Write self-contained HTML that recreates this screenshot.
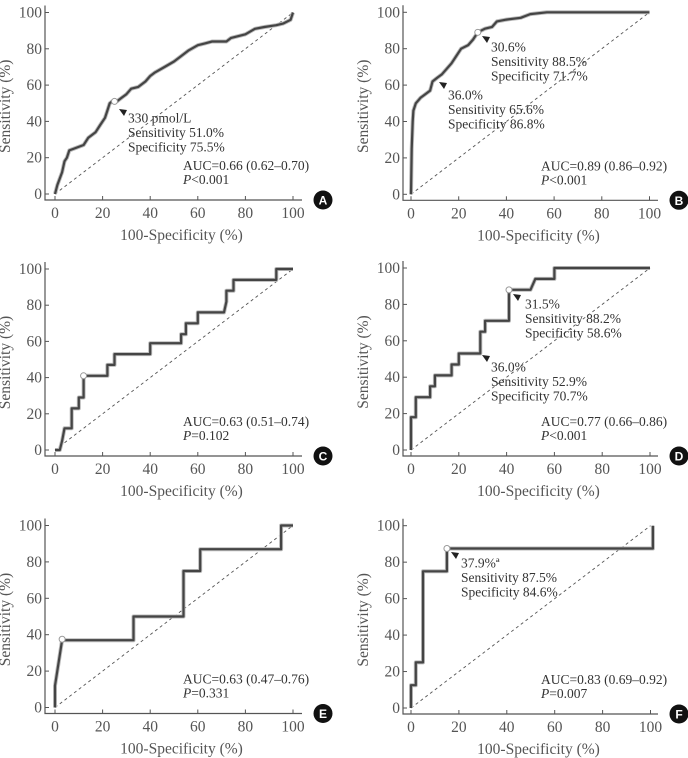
<!DOCTYPE html>
<html><head><meta charset="utf-8"><style>
html,body{margin:0;padding:0;background:#fff;width:688px;height:758px;overflow:hidden}
svg{font-family:"Liberation Serif","Times New Roman",serif}
</style></head><body>
<svg id="c" width="688" height="758"></svg>
<script>
const ticks=[0,20,40,60,80,100];
const tickLabels=["0","20","40","60","80","100"];
const aFpr=[0,1,3,4,5,6,8,12,14,17,19,21,22,23,24,26,28,30,32,35,38,40,42,46,50,53,56,60,63,66,72,74,80,84,88,93,96,99,100];
const aTpr=[0,5,12,18,20,24,25,27,31,34,38,42,46,50,51,51,53,55,58,59,62,65,67,70,73,76,79,82,83,84,84,86,88,91,92,93,94,96,100];
const bFpr=[0,0.3,0.7,1,2,4,6,8,9,11,13,15,17,19,21,24,26,28,31,34,36,40,46,50,57,100];
const bTpr=[0,25,40,46,50,53,55,57,62,64,66,69,72,76,80,82,85,89,91,92,95,96,97,99,100,100];
const cFpr=[0,2,3,4,7,7,10,10,12,12,22,22,25,25,40,40,53,53,55,55,60,60,71,72,72,75,75,93,93,100];
const cTpr=[0,0,5,12,12,23,23,29,29,41,41,47,47,53,53,59,59,64,64,70,70,76,76,82,88,88,94,94,100,100];
const dFpr=[0,0,2,2,8,8,10,10,17,17,20,20,29,29,31,31,41,41,50,52,60,60,100];
const dTpr=[0,18,18,29,29,35,35,41,41,47,47,53,53,65,65,71,71,88,88,94,94,100,100];
const eFpr=[0,0,3,33,33,54,54,61,61,95,95,100];
const eTpr=[0,12,37,37,50,50,75,75,87,87,100,100];
const fFpr=[0,0,2,2,5,5,15,15,101,101];
const fTpr=[0,12.5,12.5,25,25,75,75,87.5,87.5,100];
const cutX=[25,28,12,41,3,15];
const cutY=[51,89,41,88,37.5,87.5];

const NS="http://www.w3.org/2000/svg";
const svg=document.getElementById('c');
const SERIF='font-family:"Liberation Serif","Times New Roman",serif';
function mk(tag,attrs,parent,text){const e=document.createElementNS(NS,tag);if(tag==='text')e.setAttribute('style',SERIF);for(const k in attrs)e.setAttribute(k,attrs[k]);if(text!==undefined)e.textContent=text;(parent||svg).appendChild(e);return e;}

const panels=[
 {id:'a',L:'A',x0:55,xw:238,y0:194,yh:181.5,ax:45,ar:302,fpr:aFpr,tpr:aTpr,
  notes:[{x:128,y:118,t:["330 pmol/L","Sensitivity 51.0%","Specificity 75.5%"],ax:123,ay:112}],
  auc:["AUC=0.66 (0.62–0.70)","P<0.001"]},
 {id:'b',L:'B',x0:411,xw:238.5,y0:194.3,yh:182,ax:403,ar:658,fpr:bFpr,tpr:bTpr,
  notes:[{x:491,y:47,t:["30.6%","Sensitivity 88.5%","Specificity 71.7%"],ax:486,ay:39},
         {x:448,y:95,t:["36.0%","Sensitivity 65.6%","Specificity 86.8%"],ax:443,ay:85}],
  auc:["AUC=0.89 (0.86–0.92)","P<0.001"]},
 {id:'c',L:'C',x0:55,xw:238,y0:450,yh:181,ax:45,ar:302,fpr:cFpr,tpr:cTpr,notes:[],
  auc:["AUC=0.63 (0.51–0.74)","P=0.102"]},
 {id:'d',L:'D',x0:411,xw:239,y0:450,yh:182,ax:403,ar:658,fpr:dFpr,tpr:dTpr,
  notes:[{x:525,y:304,t:["31.5%","Sensitivity 88.2%","Specificity 58.6%"],ax:517,ay:297},
         {x:491,y:367,t:["36.0%","Sensitivity 52.9%","Specificity 70.7%"],ax:486,ay:358}],
  auc:["AUC=0.77 (0.66–0.86)","P<0.001"]},
 {id:'e',L:'E',x0:55,xw:238,y0:707.5,yh:182,ax:45,ar:302,fpr:eFpr,tpr:eTpr,notes:[],
  auc:["AUC=0.63 (0.47–0.76)","P=0.331"]},
 {id:'f',L:'F',x0:411,xw:239.5,y0:708,yh:182.3,ax:403,ar:658,fpr:fFpr,tpr:fTpr,
  notes:[{x:461,y:563,t:["37.9%ª","Sensitivity 87.5%","Specificity 84.6%"],ax:455,ay:555}],
  auc:["AUC=0.83 (0.69–0.92)","P=0.007"]}
];

panels.forEach((p,i)=>{
 const X=v=>p.x0+v/100*p.xw, Y=v=>p.y0-v/100*p.yh;
 const g=mk('g',{});
 
 
 const by=p.y0+6;
 const axes=mk('path',{d:`M${p.ax} ${Y(100)-7}V${by}H${p.ar}`,fill:'none',stroke:'#555','stroke-width':1.2},g);
 
 
 ticks.forEach((t,k)=>{
  mk('line',{x1:X(t),x2:X(t),y1:by,y2:by-4,stroke:'#555','stroke-width':1},g);
  mk('line',{x1:p.ax,x2:p.ax+4,y1:Y(t),y2:Y(t),stroke:'#555','stroke-width':1},g);
  const xl=mk('text',{x:X(t),y:p.y0+24,'text-anchor':'middle','font-size':15.5,fill:'#555'},g,tickLabels[k]);
  
  
  const yl=mk('text',{x:p.ax-3,y:Y(t)+5,'text-anchor':'end','font-size':15.5,fill:'#555'},g,tickLabels[k]);
  
  
 });
 const xt=mk('text',{x:(p.ax+p.ar)/2+8,y:p.y0+46,'text-anchor':'middle','font-size':15.5,fill:'#555'},g,'100-Specificity (%)');
 
 
 const yx=p.ax-35, yc=(Y(100)+by)/2;
 const yt=mk('text',{x:yx,y:yc,'text-anchor':'middle','font-size':15.5,fill:'#555',transform:`rotate(-90 ${yx} ${yc})`},g,'Sensitivity (%)');
 
 
 const dg=mk('line',{x1:X(0),y1:Y(0),x2:X(100),y2:Y(100),stroke:'#555','stroke-width':0.9,'stroke-dasharray':'3,3'},g);
 
 
 const d=p.fpr.map((v,k)=>(k?'L':'M')+X(v).toFixed(1)+' '+Y(p.tpr[k]).toFixed(1)).join('');
 mk('path',{d,fill:'none',stroke:'#bbb','stroke-width':4,'stroke-linejoin':'round'},g);
 const cv=mk('path',{d,fill:'none',stroke:'#444','stroke-width':2.2,'stroke-linejoin':'round'},g);
 
 
 const mkr=mk('circle',{cx:X(cutX[i]),cy:Y(cutY[i]),r:3,fill:'#fff',stroke:'#999','stroke-width':1},g);
 
 
 p.notes.forEach(n=>{
  const ar=mk('path',{d:`M${n.ax-4} ${n.ay-3}L${n.ax+4} ${n.ay-2}L${n.ax+1} ${n.ay+4}Z`,fill:'#222'},g);
  
  
  n.t.forEach((s,k)=>{
   const t=mk('text',{x:n.x,y:n.y+k*14.5+4.5,'font-size':13.5,fill:'#333'},g,s);
   
   
  });
 });
 const ax=p.ax+138;
 const a1=mk('text',{x:ax,y:p.y0-24,'font-size':13.5,fill:'#333'},g,p.auc[0]);
 
 
 const pt=mk('text',{x:ax,y:p.y0-10,'font-size':13.5,fill:'#333'},g);
 
 
 mk('tspan',{'font-style':'italic'},pt,'P');
 mk('tspan',{},pt,p.auc[1].slice(1));
 const bx=p.ar+21;
 const bc=mk('circle',{cx:bx,cy:by,r:9.5,fill:'#111'},g);
 
 
 const bt=mk('text',{x:bx,y:by+4.5,'text-anchor':'middle','font-size':12,'font-weight':'bold',fill:'#fff'},g,p.L);
 bt.setAttribute('style','font-family:"Liberation Sans",sans-serif');
});
</script>
</body></html>
